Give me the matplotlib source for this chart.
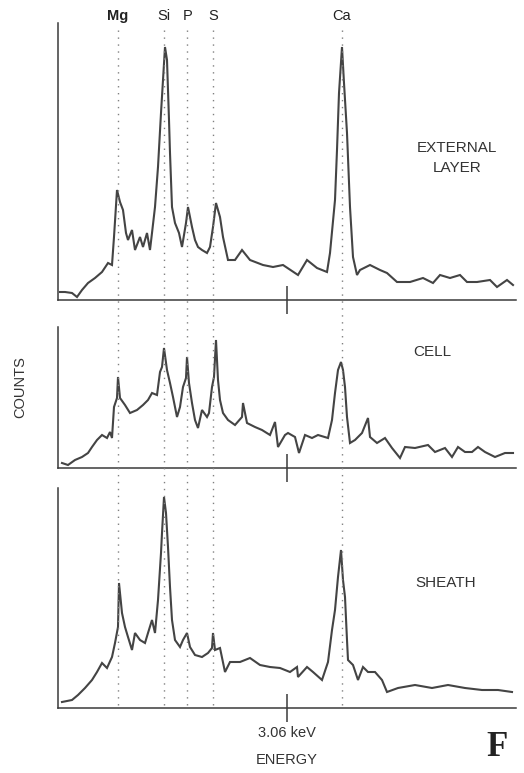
import matplotlib
matplotlib.use("Agg")
import matplotlib.pyplot as plt
from matplotlib.lines import Line2D
from matplotlib.transforms import blended_transform_factory

plt.rcParams['font.family'] = ['Liberation Sans', 'DejaVu Sans']

# energy calibration of the multichannel analyser: keV = E0 + channel * DE
E0 = 0.584
DE = 0.0108

elements = ["Mg", "Si", "P", "S", "Ca"]
element_kev = [1.23, 1.73, 1.98, 2.26, 3.65]

# external layer spectrum (channel, counts)
ext_ch = [2, 7, 14, 19, 24, 30, 37, 44, 50, 54,
          56, 59, 62, 65, 68, 70, 74, 77, 82, 85,
          89, 92, 94, 97, 100, 103, 105, 107, 109, 111,
          112, 114, 117, 121, 124, 128, 130, 134, 137, 140,
          144, 149, 152, 155, 158, 162, 165, 170, 177, 184,
          192, 205, 215, 225, 240, 249, 259, 269, 272, 277,
          279, 281, 284, 286, 289, 292, 295, 299, 302, 312,
          322, 329, 339, 352, 365, 375, 382, 392, 402, 409,
          419, 432, 439, 449, 455]
ext_counts = [8, 8, 7, 3, 10, 17, 22, 28, 37, 35,
              63, 110, 98, 90, 67, 60, 70, 50, 63, 53,
              67, 50, 67, 93, 133, 187, 220, 253, 240, 180,
              147, 93, 77, 67, 53, 77, 93, 73, 60, 53,
              50, 47, 53, 73, 97, 83, 63, 40, 40, 50,
              40, 35, 33, 35, 25, 40, 32, 28, 47, 100,
              150, 207, 253, 217, 167, 93, 43, 25, 30, 35,
              30, 27, 18, 18, 22, 17, 25, 22, 25, 18,
              18, 20, 13, 20, 15]

# cell spectrum
cell_ch = [4, 10, 17, 24, 30, 34, 39, 44, 49, 52,
           54, 56, 59, 60, 62, 67, 72, 79, 85, 90,
           94, 99, 102, 104, 106, 109, 112, 115, 119, 122,
           125, 128, 129, 131, 134, 137, 140, 144, 149, 151,
           154, 156, 158, 160, 162, 165, 170, 177, 184, 185,
           189, 197, 204, 212, 217, 220, 227, 230, 237, 241,
           247, 254, 260, 270, 274, 277, 280, 283, 285, 287,
           289, 292, 297, 304, 310, 312, 319, 327, 334, 342,
           347, 357, 370, 377, 387, 394, 400, 407, 414, 420,
           427, 437, 447, 455]
cell_counts = [5, 3, 8, 11, 15, 21, 28, 33, 30, 36,
               30, 61, 70, 91, 70, 63, 55, 58, 63, 68,
               75, 73, 96, 101, 120, 98, 85, 71, 51, 61,
               81, 90, 111, 85, 65, 48, 40, 58, 51, 55,
               81, 91, 128, 88, 68, 55, 48, 43, 51, 65,
               45, 41, 38, 33, 46, 21, 33, 35, 31, 15,
               33, 30, 33, 30, 48, 75, 98, 106, 98, 81,
               51, 25, 28, 35, 50, 31, 25, 30, 20, 10,
               21, 20, 23, 16, 20, 11, 21, 16, 16, 21,
               16, 11, 15, 15]

# sheath spectrum
sheath_ch = [4, 14, 20, 27, 34, 39, 44, 49, 54, 57,
             60, 61, 64, 67, 70, 74, 77, 82, 87, 90,
             94, 97, 100, 103, 104, 106, 108, 110, 112, 114,
             117, 122, 125, 129, 132, 137, 144, 150, 154, 155,
             157, 162, 167, 172, 182, 192, 202, 212, 222, 232,
             239, 240, 249, 255, 264, 270, 274, 277, 280, 283,
             285, 287, 289, 290, 295, 300, 305, 310, 317, 324,
             329, 340, 357, 374, 390, 407, 424, 440, 454]
sheath_counts = [6, 8, 13, 20, 28, 36, 45, 40, 51, 65,
                 81, 125, 95, 81, 71, 58, 75, 68, 65, 75,
                 88, 75, 108, 155, 175, 211, 195, 161, 121, 88,
                 68, 61, 68, 75, 61, 53, 51, 55, 60, 75,
                 58, 60, 36, 46, 46, 50, 43, 41, 40, 36,
                 41, 31, 41, 36, 28, 46, 78, 98, 131, 158,
                 128, 111, 68, 48, 43, 28, 41, 36, 36, 28,
                 16, 20, 23, 20, 23, 20, 18, 18, 16]

panels = [
    ("EXTERNAL\nLAYER", ext_ch, ext_counts, 277, (0.871, 0.513)),
    ("CELL", cell_ch, cell_counts, 141, (0.817, 0.823)),
    ("SHEATH", sheath_ch, sheath_counts, 220, (0.847, 0.568)),
]

W, H = 524, 773
fig = plt.figure(figsize=(W / 100, H / 100), dpi=100)

# axes boxes in pixels: (baseline y, axis height)
boxes = [(300, 277), (468, 141), (708, 220)]
left, right = 58, 516
ink = '#3a3a3a'

axes = []
for (label, ch, counts, top, lab_pos), (base, hgt) in zip(panels, boxes):
    ax = fig.add_axes([left / W, 1 - base / H, (right - left) / W, hgt / H])
    kev = [E0 + c * DE for c in ch]
    ax.plot(kev, counts, color='#444444', lw=1.5, solid_joinstyle='miter', zorder=3)
    ax.set_xlim(E0, E0 + 458 * DE)
    ax.set_ylim(0, top)
    for s in ['top', 'right']:
        ax.spines[s].set_visible(False)
    for s in ['left', 'bottom']:
        ax.spines[s].set_color(ink)
        ax.spines[s].set_linewidth(1.1)
    ax.set_yticks([])
    ax.set_xticks([3.06])
    ax.tick_params(axis='x', direction='inout', length=20, width=1.1, color=ink,
                   labelbottom=False)
    ax.text(lab_pos[0], lab_pos[1], label, transform=ax.transAxes, ha='center',
            va='center', fontsize=11, color='#333333', linespacing=1.5)
    ax.patch.set_alpha(0)
    axes.append(ax)

ax3 = axes[-1]
ax3.tick_params(axis='x', labelbottom=True, labelsize=10.5, pad=3, labelcolor='#333333')
ax3.set_xticklabels(["3.06 keV"])

# element marker lines running through all three spectra
tr = blended_transform_factory(ax3.transData, fig.transFigure)
for name, e in zip(elements, element_kev):
    fig.add_artist(Line2D([e, e], [1 - 30 / H, 1 - 708 / H], transform=tr,
                          color='#808080', lw=1.0, linestyle=(0, (1, 4)), zorder=1))
    fig.text(e, 1 - 16 / H, name, transform=tr, ha='center', va='center',
             fontsize=10.5, color='#222222',
             fontweight='bold' if name == "Mg" else 'normal')

fig.text(287 / W, 1 - 760 / H, "ENERGY", ha='center', va='center',
         fontsize=10.5, color='#333333')
fig.text(20 / W, 1 - 387 / H, "COUNTS", ha='center', va='center', rotation=90,
         fontsize=10.5, color='#333333')
fig.text(497 / W, 1 - 748 / H, "F", ha='center', va='center', fontsize=25,
         fontweight='bold', family='Liberation Serif', color='#222222')

fig.savefig("out.png", dpi=100)
